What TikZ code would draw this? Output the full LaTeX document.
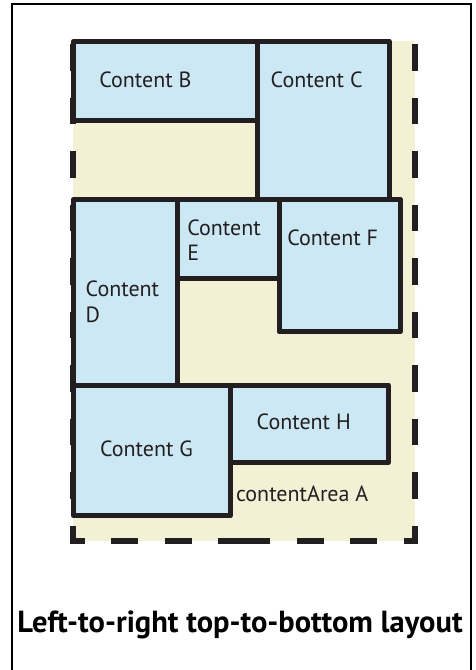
\documentclass[tikz,border=0pt]{standalone}
\usepackage{fontspec}
\setmainfont{PT Sans}
\begin{document}
\begin{tikzpicture}[x=1pt,y=-1pt,
  cbox/.style={fill=boxblue,draw=inkc,line width=5,line join=round},
  lbl/.style={inner sep=0pt,outer sep=0pt,text=inkc,anchor=base west,align=left,font=\fontsize{22}{25.5}\selectfont},
  areadash/.style={draw=inkc,line width=6,dash pattern=on 26.75 off 26.75,dash phase=50.5,line join=miter}
]
\definecolor{inkc}{HTML}{231F20}
\definecolor{boxblue}{HTML}{CCE8F4}
\definecolor{beige}{HTML}{F2F1D6}
\useasboundingbox (0,0) rectangle (475,670);
\clip (0,0) rectangle (475,670);
\fill[white] (0,0) rectangle (475,670);
% outer frame
\draw[black,line width=2.3] (12.2,700) -- (12.2,3.8) -- (471,3.8) -- (471,700);
% content area A
\fill[beige] (73.3,41.2) rectangle (415,541);
\draw[areadash] (415,41) -- (415,541) -- (243.5,541);
\draw[areadash] (73.3,41) -- (73.3,541) -- (244.5,541);
% boxes
\draw[cbox] (73.3,41.2) rectangle (257,120.2);
\draw[cbox] (257,41.2) rectangle (389,199.2);
\draw[cbox] (73.3,199.2) rectangle (177.7,385);
\draw[cbox] (177.7,199.2) rectangle (279,278.5);
\draw[cbox] (279,199.2) rectangle (400.3,331.8);
\draw[cbox] (73.3,385) rectangle (230.2,515.8);
\draw[cbox] (230.2,385) rectangle (388.3,462.5);
% labels
\node[lbl] (tb) at (99.3,87.7) {Content B};
\node[lbl] (tc) at (270.7,87.7) {Content C};
\node[lbl] (te) at (187.3,260.7) {Content\\E};
\node[lbl] (tf) at (287.3,245) {Content F};
\node[lbl] (td) at (85.7,322.3) {Content\\D};
\node[lbl] (tg) at (100,456) {Content G};
\node[lbl] (th) at (256.7,429.3) {Content H};
\node[lbl] (ta) at (236,501) {contentArea A};
\node[inner sep=0pt,anchor=base,text=black,font=\fontsize{30.5}{33}\selectfont\bfseries] (title) at (240,632) {Left-to-right top-to-bottom layout};
\end{tikzpicture}
\end{document}
